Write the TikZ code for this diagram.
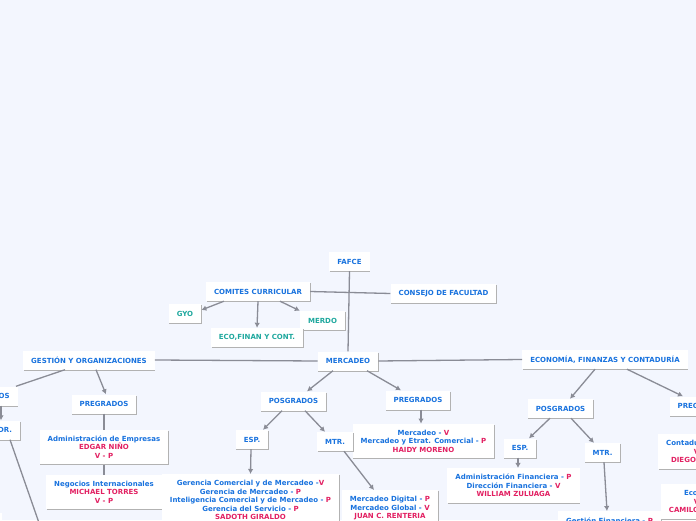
\documentclass[tikz,border=0pt]{standalone}
\usepackage{fontspec}
\setmainfont{DejaVu Sans}
\usetikzlibrary{arrows.meta,shadows}

\definecolor{paleback}{RGB}{243,246,254}
\definecolor{topicblue}{RGB}{24,114,222}
\definecolor{subteal}{RGB}{30,168,158}
\definecolor{namepink}{RGB}{226,32,98}
\definecolor{linkgray}{RGB}{138,140,150}
\newcommand{\nm}[1]{\textcolor{namepink}{#1}}

\begin{document}
\begin{tikzpicture}[x=1pt, y=1pt, every node/.style={font=\fontsize{7}{8.5}\selectfont\bfseries}, >={Latex[length=5pt,width=5.5pt]},
	box/.style={fill=white, text=topicblue, align=center, inner xsep=8pt, inner ysep=6pt, drop shadow={shadow xshift=0.6pt, shadow yshift=-1pt, fill=black!30, opacity=1}},
	tbox/.style={box, minimum height=19pt, inner ysep=0pt},
	subbox/.style={tbox, text=subteal},
	link/.style={draw=linkgray, line width=1.3pt}]
	\useasboundingbox (0,0) rectangle (696,520);
	\clip (0,0) rectangle (696,520);
	\fill[paleback] (0,0) rectangle (696,520);
	\node[tbox] (fafce) at (349.5,258.5) {FAFCE};
	\node[tbox] (comites) at (258,228.5) {COMITES CURRICULAR};
	\node[tbox] (consejo) at (443.5,226.5) {CONSEJO DE FACULTAD};
	\node[subbox] (gyo) at (185,206.5) {GYO};
	\node[subbox] (merdo) at (322.5,199.5) {MERDO};
	\node[subbox] (ecofin) at (257,182.5) {ECO,FINAN Y CONT.};
	\node[tbox] (merc) at (348,159) {MERCADEO};
	\node[tbox] (gest) at (89,160) {GESTIÓN Y ORGANIZACIONES};
	\node[tbox] (econ) at (605,160.5) {ECONOMÍA, FINANZAS Y CONTADURÍA};
	\node[tbox] (posG) at (-15,124) {POSGRADOS};
	\node[tbox] (drG) at (5,90) {DR.};
	\node[box, minimum width=40pt, minimum height=30pt, anchor=north east] (espG) at (2,7) {};
	\coordinate (drGend) at (40.8,-8);
	\node[tbox] (pregG) at (104,116) {PREGRADOS};
	\node[box] (admE) at (104,73) {Administración de Empresas\\\nm{EDGAR NIÑO}\\\nm{V - P}};
	\node[box] (negI) at (104,28) {Negocios Internacionales\\\nm{MICHAEL TORRES}\\\nm{V - P}};
	\node[tbox] (posM) at (293.5,119) {POSGRADOS};
	\node[tbox] (pregM) at (418,120) {PREGRADOS};
	\node[box] (mercP) at (423.5,79) {Mercadeo - \nm{V}\\Mercadeo y Etrat. Comercial - \nm{P}\\\nm{HAIDY MORENO}};
	\node[tbox] (espM) at (252,80.5) {ESP.};
	\node[tbox] (mtrM) at (335,78.5) {MTR.};
	\node[box, anchor=north] (gerC) at (250.5,46) {Gerencia Comercial y de Mercadeo -\nm{V}\\Gerencia de Mercadeo - \nm{P}\\Inteligencia Comercial y de Mercadeo - \nm{P}\\Gerencia del Servicio - \nm{P}\\\nm{SADOTH GIRALDO}};
	\node[box, anchor=north] (mercD) at (390,30) {Mercadeo Digital - \nm{P}\\Mercadeo Global - \nm{V}\\\nm{JUAN C. RENTERIA}};
	\node[tbox] (posE) at (560.5,111.5) {POSGRADOS};
	\node[tbox] (pregE) at (702,114) {PREGRADOS};
	\node[tbox] (espE) at (520,72) {ESP.};
	\node[tbox] (mtrE) at (602.5,67.5) {MTR.};
	\node[box] (admF) at (513.5,34.5) {Administración Financiera - \nm{P}\\Dirección Financiera - \nm{V}\\\nm{WILLIAM ZULUAGA}};
	\node[tbox, anchor=north] (gesF) at (609.5,9) {Gestión Financiera - \nm{P}};
	\node[box, anchor=north] (contP) at (703,86) {Contaduría\rule{30pt}{0pt}\\\nm{V - P}\\\nm{DIEGO}\rule{39pt}{0pt}};
	\node[box, anchor=north] (ecoP) at (703,36) {Economía\\\nm{V - P}\\\nm{CAMILO}\rule{38pt}{0pt}};
	\draw[link] (fafce.south) -- (merc.north);
	\draw[link] (comites.east) -- (consejo.west);
	\draw[link, ->] ([xshift=-34pt]comites.south) -- ([yshift=3.5pt]gyo.east);
	\draw[link, ->] (comites.south) -- (ecofin.north);
	\draw[link, ->] ([xshift=22pt]comites.south) -- (merdo.north west);
	\draw[link] (merc.west) -- (gest.east);
	\draw[link] (merc.east) -- (econ.west);
	\draw[link] ([xshift=-24pt]gest.south) -- ([xshift=-2pt]posG.north east);
	\draw[link, ->] ([xshift=16pt]posG.south) -- ([xshift=-4pt]drG.north);
	\draw[link] ([xshift=5pt]drG.south) -- (drGend);
	\draw[link, ->] ([xshift=7pt]gest.south) -- ([xshift=2pt]pregG.north);
	\draw[link] (pregG.south) -- (admE.north);
	\draw[link] (admE.south) -- (negI.north);
	\draw[link, ->] ([xshift=-15pt]merc.south) -- ([xshift=13.5pt]posM.north);
	\draw[link, ->] ([xshift=19pt]merc.south) -- ([xshift=-17pt]pregM.north);
	\draw[link, ->] ([xshift=3pt]pregM.south) -- ([xshift=-2.5pt]mercP.north);
	\draw[link, ->] ([xshift=-11.5pt]posM.south) -- ([xshift=11pt]espM.north);
	\draw[link, ->] ([xshift=11.5pt]posM.south) -- ([xshift=-10pt]mtrM.north);
	\draw[link, ->] ([xshift=-1pt]espM.south) -- (gerC.north);
	\draw[link, ->] ([xshift=9pt]mtrM.south) -- ([xshift=-16pt]mercD.north);
	\draw[link, ->] ([xshift=-10pt]econ.south) -- ([xshift=9.5pt]posE.north);
	\draw[link, ->] ([xshift=22pt]econ.south) -- ([xshift=-19pt]pregE.north);
	\draw[link, ->] ([xshift=-10.5pt]posE.south) -- ([xshift=9pt]espE.north);
	\draw[link, ->] ([xshift=10.5pt]posE.south) -- ([xshift=-8.5pt]mtrE.north);
	\draw[link, ->] ([xshift=-2pt]espE.south) -- ([xshift=4.5pt]admF.north);
	\draw[link, ->] ([xshift=1.5pt]mtrE.south) -- ([xshift=-2.5pt]gesF.north);
\end{tikzpicture}
\end{document}
